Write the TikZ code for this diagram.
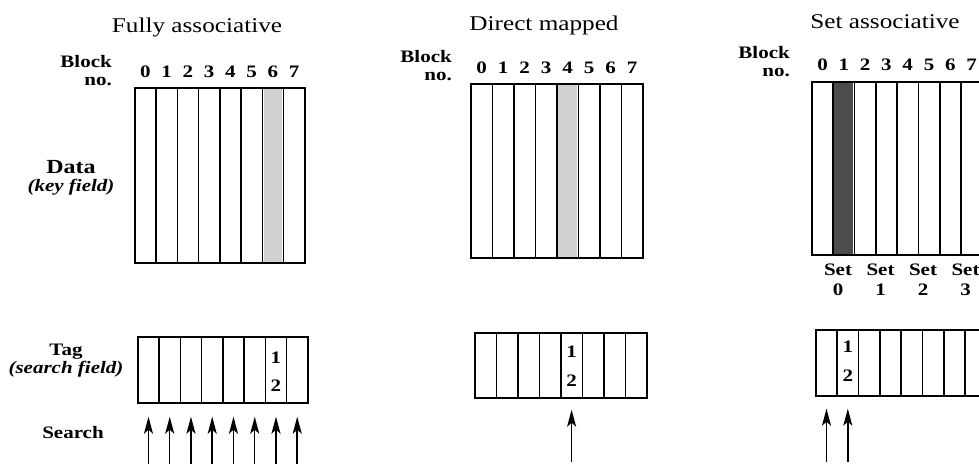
\documentclass[tikz,border=0pt]{standalone}
\usepackage{fontspec}
\setmainfont{Liberation Serif}[FakeStretch=1.2]
\usetikzlibrary{arrows.meta}
\newcommand{\lblfont}{\bfseries\fontsize{17.5}{18}\selectfont}
\newcommand{\ttlfont}{\fontsize{21}{24}\selectfont}

\begin{document}
\begin{tikzpicture}[x=1pt,y=-1pt,
	cell/.style={draw,line width=1.7pt,anchor=north west,inner sep=0pt},
	lbl/.style={font=\lblfont,inner sep=0pt},
	ttl/.style={font=\ttlfont,inner sep=0pt},
	srch/.style={-{Stealth[length=17pt,width=9pt,inset=4pt]},line width=1.5pt}]
\useasboundingbox (0,0) rectangle (979,466);

% row labels on the left
\node[lbl,align=center] (data) at (71,178) {{\fontsize{20}{18}\selectfont Data}\\\textit{(key field)}};
\node[lbl,align=center] (tag) at (66,361) {Tag\\\textit{(search field)}};
\node[lbl] (search) at (73,433) {Search};

% fully associative: search every block
\node[ttl] (fa-title) at (197,27) {Fully associative};
\node[lbl,align=right,anchor=east] (fa-blk) at (112,71) {Block\\no.};
\foreach \i in {0,...,7} {
	\node[cell,minimum width=21.25pt,minimum height=175pt] (fa-d\i) at (134+\i*21.25,87) {};
	\node[lbl] (fa-n\i) at ([yshift=15pt]fa-d\i.north) {\i};
	\node[cell,minimum width=21.25pt,minimum height=66pt] (fa-t\i) at (137+\i*21.25,336) {};
	\coordinate (fa-s\i) at ([yshift=-60pt]fa-t\i.south);
	\draw[srch,shorten >=13pt] (fa-s\i) -- (fa-t\i.south);
}
\fill[black!18] ([xshift=2pt,yshift=-2pt]fa-d6.north west) rectangle ([xshift=-2pt,yshift=2pt]fa-d6.south east);
\node[lbl] (fa-k1) at ([yshift=12pt]fa-t6.center) {1};
\node[lbl] (fa-k2) at ([yshift=-16pt]fa-t6.center) {2};

% direct mapped: only one block
\node[ttl] (dm-title) at (544,25) {Direct mapped};
\node[lbl,align=right,anchor=east] (dm-blk) at (452,66) {Block\\no.};
\foreach \i in {0,...,7} {
	\node[cell,minimum width=21.5pt,minimum height=174pt] (dm-d\i) at (470+\i*21.5,83) {};
	\node[lbl] (dm-n\i) at ([yshift=15pt]dm-d\i.north) {\i};
	\node[cell,minimum width=21.5pt,minimum height=65pt] (dm-t\i) at (474+\i*21.5,332) {};
}
\fill[black!18] ([xshift=2pt,yshift=-2pt]dm-d4.north west) rectangle ([xshift=-2pt,yshift=2pt]dm-d4.south east);
\node[lbl] (dm-k1) at ([yshift=14pt]dm-t4.center) {1};
\node[lbl] (dm-k2) at ([yshift=-15pt]dm-t4.center) {2};
\coordinate (dm-s) at ([yshift=-63pt]dm-t4.south);
\draw[srch,shorten >=11pt] (dm-s) -- (dm-t4.south);

% set associative: search the blocks of one set
\node[ttl] (sa-title) at (885,22) {Set associative};
\node[lbl,align=right,anchor=east] (sa-blk) at (790,62) {Block\\no.};
\foreach \i in {0,...,7} {
	\node[cell,minimum width=21.3pt,minimum height=173pt] (sa-d\i) at (811+\i*21.3,81) {};
	\node[lbl] (sa-n\i) at ([yshift=16pt]sa-d\i.north) {\i};
	\node[cell,minimum width=21.3pt,minimum height=66pt] (sa-t\i) at (815+\i*21.3,329) {};
}
\fill[black!70] ([xshift=2pt,yshift=-2pt]sa-d1.north west) rectangle ([xshift=-2pt,yshift=2pt]sa-d1.south east);
\foreach \k in {0,...,3}
	\node[lbl,align=center] (sa-set\k) at (838+\k*42.5,280) {Set\\[2pt]\k};
\node[lbl] (sa-k1) at ([yshift=16pt]sa-t1.center) {1};
\node[lbl] (sa-k2) at ([yshift=-13pt]sa-t1.center) {2};
\foreach \i in {0,1} {
	\coordinate (sa-s\i) at ([yshift=-65pt]sa-t\i.south);
	\draw[srch,shorten >=12pt] (sa-s\i) -- (sa-t\i.south);
}
\end{tikzpicture}
\end{document}
